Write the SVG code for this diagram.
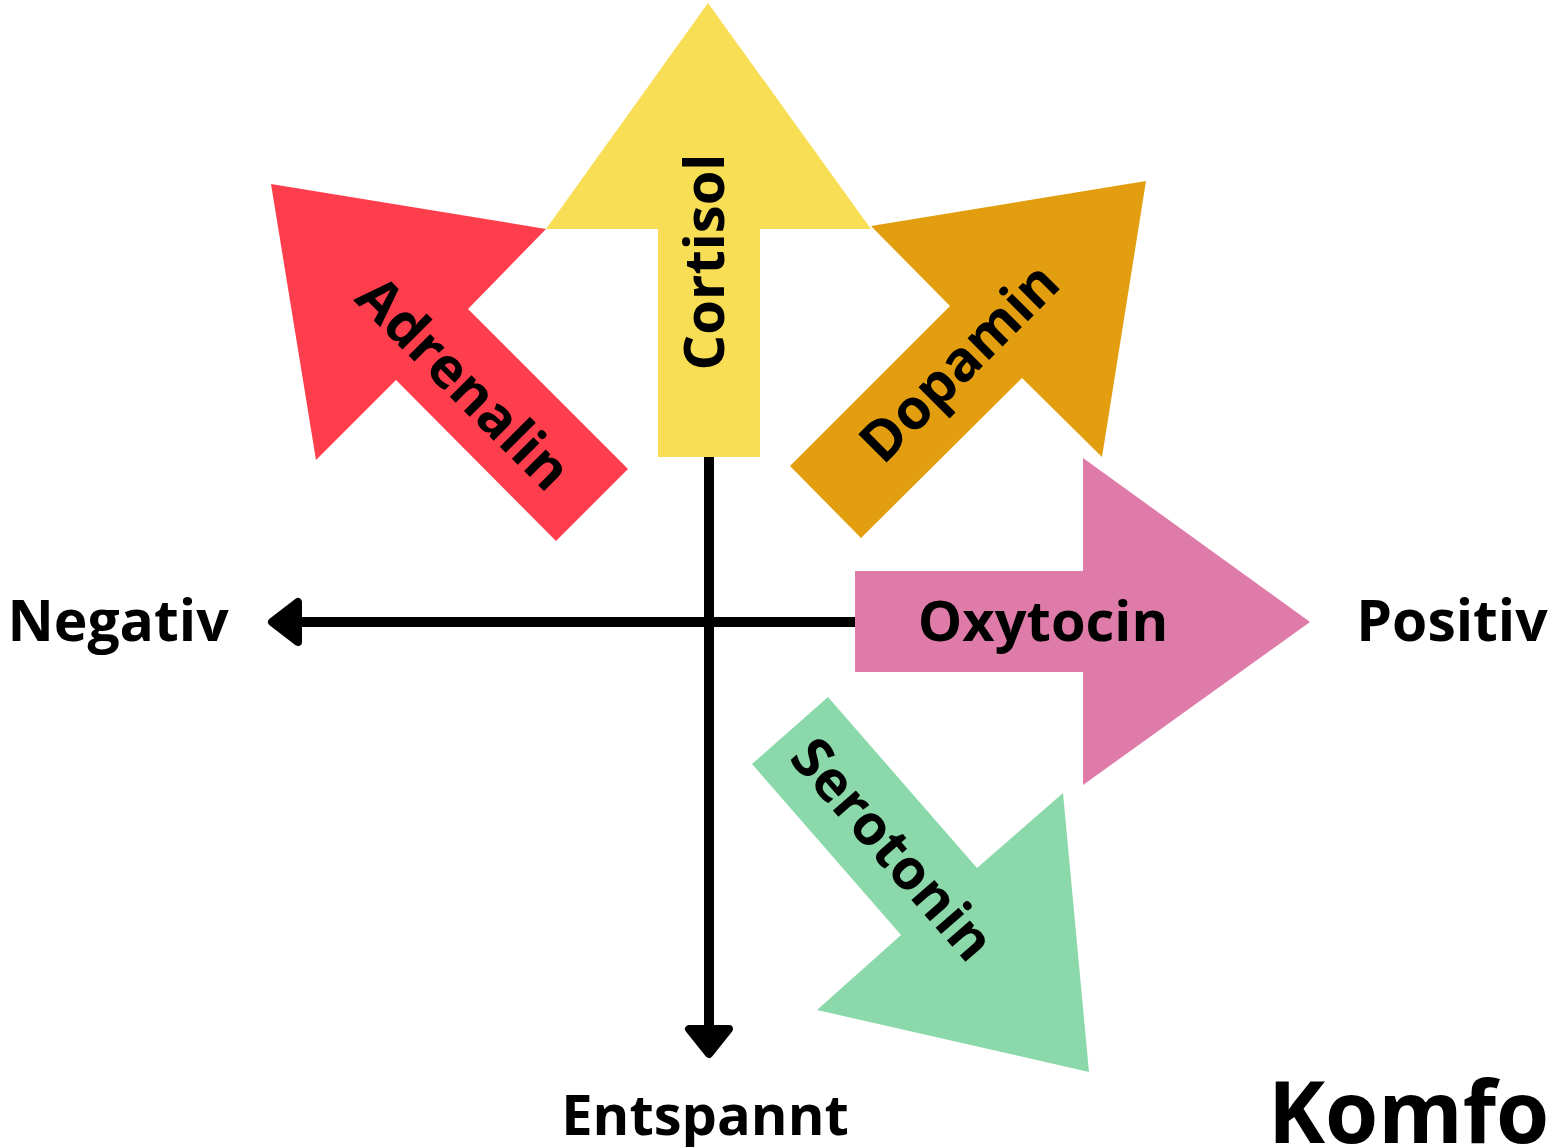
<svg xmlns="http://www.w3.org/2000/svg" width="1549" height="1147" viewBox="0 0 1549 1147">
<style>
.lbl{font-family:"Open Sans","Noto Sans","DejaVu Sans",sans-serif;font-weight:700;font-size:56px;fill:#000;text-anchor:middle}
.side{font-size:57px}
.ax{stroke:#000;stroke-width:10;fill:none}
.head{fill:#000;stroke:#000;stroke-width:8;stroke-linejoin:round}
</style>
<rect width="1549" height="1147" fill="#fff"/>
<g id="connectors">
<line class="ax" x1="709" y1="457" x2="709" y2="1030"/>
<path class="head" d="M709,1054 L689,1029 L729,1029 Z"/>
<line class="ax" x1="855" y1="622" x2="296" y2="622"/>
<path class="head" d="M272,622 L298,602 L298,642 Z"/>
</g>
<g id="cortisol">
<polygon fill="#F7DE55" points="708,3 871,229 760,229 760,457 658,457 658,229 546,229"/>
<text class="lbl" transform="translate(724,262) rotate(-90)">Cortisol</text>
</g>
<g id="adrenalin">
<polygon fill="#FF3E4D" points="271,184 546,229 468,309 628,469 556,541 396,380 316,460"/>
<text class="lbl" transform="translate(450,397) rotate(45)">Adrenalin</text>
</g>
<g id="dopamin">
<polygon fill="#E39E0F" points="1146,181 1102,457 1022,378 861,538 790,466 950,306 871,226"/>
<text class="lbl" transform="translate(973,376) rotate(-45)">Dopamin</text>
</g>
<g id="oxytocin">
<polygon fill="#DF7BA8" points="1310,622 1083,785 1083,672 855,672 855,571 1083,571 1083,458"/>
<text class="lbl" x="1043" y="641">Oxytocin</text>
</g>
<g id="serotonin">
<polygon fill="#8BD9AA" points="1089,1072 817,1010 901,935 752,764 828,697 977,868 1063,793"/>
<text class="lbl" transform="translate(878,862) rotate(48.8)">Serotonin</text>
</g>
<g id="negativ"><text class="lbl side" x="118" y="641">Negativ</text></g>
<g id="positiv"><text class="lbl side" x="1452" y="641">Positiv</text></g>
<g id="entspannt"><text class="lbl" x="705" y="1135">Entspannt</text></g>
<g id="komfort"><text class="lbl" x="1268" y="1143" style="font-size:86px;text-anchor:start">Komfo</text></g>
</svg>
